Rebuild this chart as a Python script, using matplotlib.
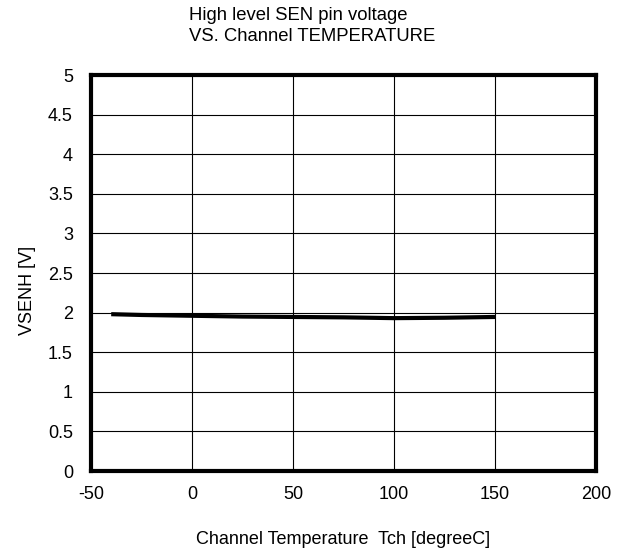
import matplotlib
matplotlib.use("Agg")
import matplotlib.pyplot as plt

plt.rcParams['font.family'] = ['Liberation Sans', 'DejaVu Sans']
plt.rcParams['axes.unicode_minus'] = False

temperature = [-40, -25, 0, 25, 50, 75, 100, 125, 150]
vsenh = [1.98, 1.97, 1.96, 1.95, 1.945, 1.94, 1.93, 1.935, 1.945]
x_ticks = [-50, 0, 50, 100, 150, 200]
y_ticks = [0, 0.5, 1, 1.5, 2, 2.5, 3, 3.5, 4, 4.5, 5]
y_tick_labels = ['0', '0.5', '1', '1.5', '2', '2.5', '3', '3.5', '4', '4.5', '5']

fig = plt.figure(figsize=(6.25, 5.51), dpi=100)
ax = fig.add_axes([91/625, 80/551, 505/625, 396/551])
ax.plot(temperature, vsenh, color='black', linewidth=3, solid_capstyle='butt', zorder=3)
ax.set_xlim(-50, 200)
ax.set_ylim(0, 5)
ax.set_xticks(x_ticks)
ax.set_yticks(y_ticks)
ax.set_yticklabels(y_tick_labels)
ax.grid(True, color='black', linewidth=0.8)
ax.tick_params(length=0, labelsize=13)
ax.tick_params(axis='x', pad=11)
ax.tick_params(axis='y', pad=13)
for s in ax.spines.values():
    s.set_linewidth(3)
    s.set_color('black')
ax.set_xlabel('Channel Temperature  Tch [degreeC]', fontsize=13, labelpad=20)
fig.text(27/625, (551 - 290)/551, 'VSENH [V]', rotation=90, ha='center', va='center', fontsize=13)
fig.text(189/625, 1 - 7/551, 'High level SEN pin voltage\nVS. Channel TEMPERATURE',
         ha='left', va='top', fontsize=13.3, linespacing=1.3)
fig.savefig('out.png', dpi=100)
